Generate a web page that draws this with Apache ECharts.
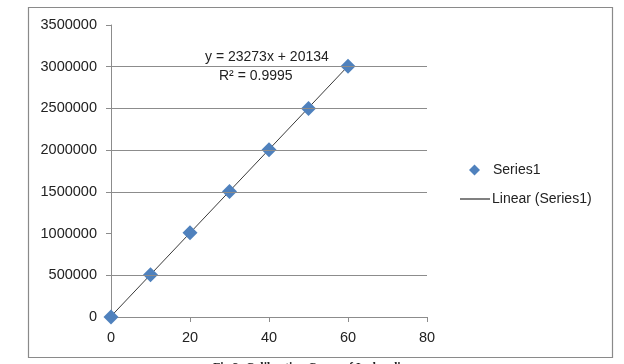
<!DOCTYPE html>
<html>
<head>
<meta charset="utf-8">
<script src="https://cdn.jsdelivr.net/npm/echarts@6/dist/echarts.min.js"></script>
<style>
html,body{margin:0;padding:0;background:#fff;}
#c{width:624px;height:364px;}
</style>
</head>
<body>
<div id="c"></div>
<script>
// Data
var xValues = [0, 10, 20, 30, 40, 50, 60];
var yValues = [0, 505000, 1010000, 1505000, 2005000, 2500000, 3005000];
var trendX = [0, 60];
var trendY = [8000, 3008000];
var gridValues = [500000, 1500000, 2000000, 2500000, 3000000];
var seriesName = 'Series1';
var trendName = 'Linear (Series1)';
var equationText = 'y = 23273x + 20134';
var r2Text = 'R\u00B2 = 0.9995';
var captionText = 'Fig 3: Calibration Curve of Ivabradine';

var font = '"Liberation Sans", Arial, sans-serif';
var pts = xValues.map(function (x, i) { return [x, yValues[i]]; });
var trend = trendX.map(function (x, i) { return [x, trendY[i]]; });
var gridLines = gridValues.map(function (v) {
  return [{ coord: [0, v] }, { coord: [80, v] }];
});

var chart = echarts.init(document.getElementById('c'), null, { renderer: 'canvas' });
chart.setOption({
  animation: false,
  backgroundColor: '#ffffff',
  title: {
    text: captionText,
    left: 208, top: 357,
    textStyle: { fontFamily: '"Liberation Serif", serif', fontWeight: 'bold', fontSize: 12, color: '#222' }
  },
  grid: { left: 111, right: 197, top: 25, bottom: 47 },
  xAxis: {
    type: 'value', min: 0, max: 80, interval: 20,
    axisLine: { show: true, lineStyle: { color: '#8c8c8c', width: 1 } },
    axisTick: { show: true, length: 5, lineStyle: { color: '#8c8c8c' } },
    splitLine: { show: false },
    axisLabel: { margin: 13, fontFamily: font, fontSize: 14.5, color: '#222' }
  },
  yAxis: {
    type: 'value', min: 0, max: 3500000, interval: 500000,
    axisLine: { show: true, lineStyle: { color: '#8c8c8c', width: 1 } },
    axisTick: { show: true, length: 5, lineStyle: { color: '#8c8c8c' } },
    splitLine: { show: false },
    axisLabel: {
      margin: 14, fontFamily: font, fontSize: 14.5, color: '#222',
      formatter: function (v) { return String(v); }
    }
  },
  legend: [
    {
      data: [{ name: seriesName, icon: 'diamond' }],
      left: 464, top: 158, orient: 'vertical',
      itemWidth: 11, itemHeight: 11,
      textStyle: { fontFamily: font, fontSize: 14, color: '#222', padding: [0, 0, 0, 8] },
      selectedMode: false
    },
    {
      data: [{ name: trendName, icon: 'path://M0,0 L30,0 L30,1 L0,1 Z' }],
      left: 455, top: 187, orient: 'vertical',
      itemWidth: 30, itemHeight: 1.2,
      textStyle: { fontFamily: font, fontSize: 14, color: '#222', padding: [0, 0, 0, -3] },
      selectedMode: false
    }
  ],
  graphic: [
    {
      type: 'rect', silent: true,
      shape: { x: 28.5, y: 7.5, width: 584, height: 350 },
      style: { fill: 'none', stroke: '#8a8a8a', lineWidth: 1.2 }
    },
    {
      type: 'text', left: 205, top: 50, silent: true,
      style: { text: equationText, fontFamily: font, fontSize: 14, fill: '#222' }
    },
    {
      type: 'text', left: 219, top: 69, silent: true,
      style: { text: r2Text, fontFamily: font, fontSize: 14, fill: '#222' }
    }
  ],
  series: [
    {
      name: trendName, type: 'line', data: trend,
      showSymbol: false, symbol: 'none', z: 3,
      lineStyle: { color: '#3a3a3a', width: 1 },
      itemStyle: { color: '#000' }
    },
    {
      name: seriesName, type: 'scatter', data: pts, clip: false,
      symbol: 'diamond', symbolSize: 15, z: 4,
      itemStyle: { color: '#4f81bd', opacity: 1 },
      markLine: {
        silent: true, symbol: ['none', 'none'], label: { show: false },
        lineStyle: { color: '#8c8c8c', width: 1, type: 'solid' },
        data: gridLines
      }
    }
  ]
});
</script>
</body>
</html>
